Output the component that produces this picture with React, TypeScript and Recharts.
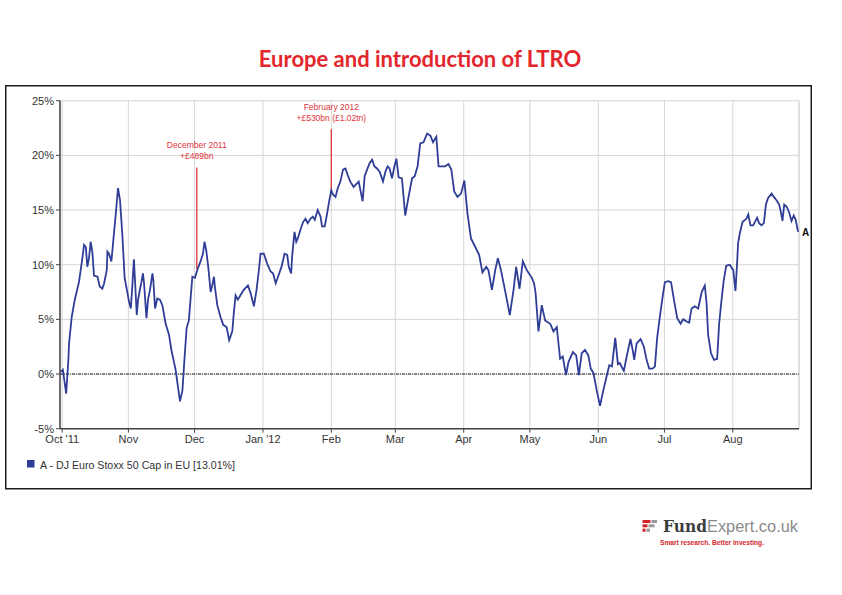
import React from 'react';
import { LineChart, Line, XAxis, YAxis, CartesianGrid, ReferenceLine } from 'recharts';

// Days since 1 Oct 2011
const days = [
  0.4, 1.3, 2.8, 3.8, 4.1, 5.3, 6.7, 8.6, 10.2, 10.9, 11.7, 12.4, 13.2, 13.9, 14.7, 15.4, 17.0, 18.0, 19.2, 20.0,
  21.2, 21.5, 22.2, 23.3, 24.2, 25.3, 26.3, 27.2, 28.3, 29.3, 30.6, 31.3, 32.1, 32.8, 33.5, 34.8, 35.4, 36.3, 36.9, 37.6,
  38.1, 39.2, 39.9, 40.8, 41.9, 42.3, 43.1, 44.1, 45.3, 46.4, 47.9, 49.4, 50.5, 52.4, 54.4, 55.5, 56.5, 57.4, 58.4, 60.0,
  61.2, 62.2, 63.7, 64.8, 65.5, 66.3, 67.2, 68.3, 69.0, 69.8, 70.2, 71.3, 72.8, 74.0, 75.5, 76.7, 78.1, 78.8, 79.6, 80.6,
  81.8, 83.3, 85.2, 86.4, 87.9, 89.1, 90.1, 90.9, 92.4, 93.9, 95.4, 96.6, 97.8, 99.2, 100.4, 101.8, 103.0, 103.7, 104.8, 105.2,
  106.3, 107.1, 107.8, 109.0, 110.2, 111.3, 112.3, 113.5, 114.6, 115.5, 116.8, 118.1, 118.8, 120.0, 121.1, 122.1, 123.0, 123.8, 124.9, 125.9,
  127.1, 128.3, 129.4, 130.4, 131.6, 133.1, 134.4, 135.4, 136.2, 137.2, 138.1, 139.2, 140.4, 141.5, 142.5, 143.7, 144.9, 146.4, 147.5, 148.5,
  149.4, 150.5, 151.6, 152.5, 153.5, 155.0, 156.5, 158.0, 159.6, 160.8, 162.1, 163.3, 164.8, 166.4, 167.9, 169.1, 170.6, 171.6, 173.2, 174.6,
  176.1, 177.4, 178.7, 180.2, 181.8, 183.3, 184.7, 186.3, 187.8, 190.0, 191.5, 193.2, 194.2, 195.8, 197.3, 198.5, 199.9, 201.4, 203.9, 205.6,
  206.8, 208.3, 209.8, 211.6, 213.9, 214.9, 215.6, 216.9, 218.4, 219.9, 222.2, 223.7, 225.2, 226.7, 227.9, 229.4, 230.5, 232.5, 234.0, 235.2,
  236.5, 238.0, 239.5, 240.6, 241.8, 243.3, 244.8, 246.3, 247.8, 249.0, 250.2, 251.7, 252.9, 253.8, 255.0, 255.6, 256.9, 258.6, 259.6, 260.3,
  261.4, 263.2, 264.7, 265.9, 267.1, 268.6, 269.7, 270.7, 271.9, 273.2, 274.2, 275.7, 277.0, 278.3, 279.8, 281.3, 282.5, 284.1, 285.2, 286.3,
  287.8, 289.3, 290.9, 292.3, 293.1, 293.8, 295.1, 296.5, 297.9, 298.8, 299.9, 300.9, 302.0, 303.6, 305.2, 306.2, 307.0, 307.4, 308.2, 309.4,
  310.5, 311.2, 312.0, 313.0, 314.2, 315.0, 316.0, 316.9, 318.0, 319.1, 320.0, 321.0, 322.6, 323.6, 324.8, 326.0, 326.8, 327.5, 328.3, 329.4,
  330.5, 331.6, 332.6, 333.5, 334.6,
];

const values = [
  0.2, 0.4, -1.8, 1.3, 2.8, 5.2, 6.8, 8.4, 10.7, 11.8, 11.6, 9.8, 10.7, 12.1, 11.1, 9.0, 8.9, 8.0, 7.8, 8.3,
  9.5, 11.2, 11.0, 10.3, 12.3, 14.7, 17.0, 15.9, 12.6, 8.8, 7.4, 6.6, 6.0, 8.1, 10.5, 5.4, 6.8, 7.8, 8.4, 9.2,
  8.3, 5.1, 6.8, 7.7, 9.2, 8.6, 6.0, 6.9, 6.8, 6.3, 4.6, 3.6, 2.2, 0.4, -2.5, -1.5, 1.6, 4.2, 4.9, 8.9,
  8.8, 9.5, 10.3, 11.0, 12.1, 11.3, 9.8, 7.5, 8.1, 8.9, 8.0, 6.3, 5.2, 4.5, 4.3, 3.1, 3.9, 5.6, 7.2, 6.8,
  7.2, 7.7, 8.1, 7.4, 6.2, 7.7, 9.4, 11.0, 11.0, 10.1, 9.4, 9.2, 8.3, 9.1, 9.8, 11.0, 10.9, 9.8, 9.2, 10.7,
  13.0, 12.1, 12.4, 13.2, 13.9, 14.2, 13.8, 14.2, 14.4, 14.1, 15.0, 14.4, 13.5, 13.5, 14.7, 15.9, 16.8, 16.4, 16.2, 17.0,
  17.6, 18.7, 18.8, 18.2, 17.6, 17.1, 17.4, 17.6, 16.8, 15.8, 18.1, 18.7, 19.3, 19.6, 19.0, 18.8, 18.5, 17.6, 18.5, 19.0,
  18.8, 17.9, 19.0, 19.7, 18.0, 17.9, 14.5, 16.2, 17.9, 18.1, 19.0, 21.1, 21.2, 22.0, 21.8, 21.2, 21.7, 19.0, 19.0, 19.0,
  19.2, 18.7, 16.7, 16.2, 16.5, 17.7, 14.7, 12.4, 11.8, 10.9, 9.3, 9.8, 9.5, 7.7, 9.5, 10.6, 9.5, 8.0, 5.4, 7.7,
  9.8, 7.8, 10.3, 9.5, 8.8, 8.3, 7.4, 3.9, 6.3, 4.9, 4.6, 3.9, 4.3, 1.4, 1.6, -0.1, 1.1, 2.0, 1.7, -0.1,
  1.9, 2.2, 1.7, 0.5, 0.1, -1.5, -2.9, -1.5, -0.2, 0.8, 0.7, 3.3, 0.9, 1.0, 0.5, 0.3, 1.6, 3.2, 2.2, 1.3,
  2.8, 3.2, 2.5, 1.3, 0.5, 0.5, 0.7, 3.3, 5.2, 7.1, 8.4, 8.5, 8.4, 6.8, 5.1, 4.6, 5.0, 4.8, 4.7, 6.0,
  6.2, 6.0, 7.5, 8.1, 6.5, 3.6, 1.9, 1.3, 1.4, 4.6, 6.8, 8.6, 9.9, 10.0, 9.5, 7.6, 10.4, 12.0, 12.9, 13.9,
  14.1, 14.2, 14.6, 13.6, 13.6, 13.9, 14.3, 13.8, 13.6, 13.8, 15.5, 16.1, 16.5, 16.2, 15.9, 15.5, 14.8, 14.0, 15.5, 15.3,
  14.8, 14.0, 14.5, 14.1, 13.0,
];

const monthTicks = [1, 31, 61, 92, 123, 152, 183, 213, 244, 274, 305];
const monthLabels = ["Oct '11", 'Nov', 'Dec', "Jan '12", 'Feb', 'Mar', 'Apr', 'May', 'Jun', 'Jul', 'Aug'];
const yTicks = [-5, 0, 5, 10, 15, 20, 25];

const seriesName = 'A - DJ Euro Stoxx 50 Cap in EU [13.01%]';
const seriesShort = 'A';

const annoDays = [62, 123];
const annoTop = [18.9, 22.4];
const annoBottom = [9.6, 16.8];
const annoLine1 = ['December 2011', 'February 2012'];
const annoLine2 = ['+£489bn', '+£530bn (£1.02tn)'];

const data = days.map((d, i) => ({ day: d, value: values[i] }));

const BLUE = '#2f3d96';
const RED = '#e2333b';
const FONT = '"Liberation Sans", Arial, sans-serif';

const renderAnno = (i: number) => (p: any) => {
  const vb = p.viewBox || {};
  const cx = (vb.x || 0) + (vb.width || 0) / 2;
  const top = vb.y || 0;
  return (
    <g>
      <text x={cx} y={top - 19} textAnchor="middle" fontSize={8.5} fill={RED} fontFamily={FONT}>{annoLine1[i]}</text>
      <text x={cx} y={top - 8} textAnchor="middle" fontSize={8.5} fill={RED} fontFamily={FONT}>{annoLine2[i]}</text>
    </g>
  );
};

const endLabel = (p: any) => {
  if (p.index !== data.length - 1) return <g />;
  return (
    <text x={p.x + 4} y={p.y + 4} fontSize={10} fontWeight="bold" fill="#111" fontFamily={FONT}>{seriesShort}</text>
  );
};

export default function App() {
  return (
    <div style={{ position: 'absolute', left: 0, top: 0, width: 842, height: 595, background: '#fff', overflow: 'hidden' }}>
      <svg width={842} height={595} style={{ position: 'absolute', left: 0, top: 0 }}>
        <text x={420} y={66.5} textAnchor="middle" fontFamily="Lato, 'Open Sans', sans-serif" fontWeight="bold" fontSize={22} fill="#e3262d">
          Europe and introduction of LTRO
        </text>
        <rect x={5.75} y={85.75} width={805.5} height={403} fill="none" stroke="#1e1e1e" strokeWidth={1.5} />
        {/* legend */}
        <rect x={27} y={460} width={7.5} height={7.5} fill={BLUE} />
        <text x={40} y={468.5} fontSize={11} fill="#333" fontFamily={FONT} textLength={195} lengthAdjust="spacingAndGlyphs">{seriesName}</text>
        {/* logo */}
        <rect x={642.5} y={520} width={8} height={3} fill="#d2232a" />
        <rect x={651.5} y={520} width={5.5} height={3} fill="#9a9a9a" />
        <rect x={642.5} y={524.3} width={5} height={3} fill="#d2232a" />
        <rect x={648.5} y={524.3} width={6} height={3} fill="#9a9a9a" />
        <rect x={642.5} y={528.6} width={3} height={3.2} fill="#d2232a" />
        <rect x={646.5} y={528.6} width={3.5} height={3.2} fill="#9a9a9a" />
        <text x={663} y={532} fontFamily="'DejaVu Serif', serif" fontWeight="bold" fontSize={17} fill="#3d3d3d" textLength={44} lengthAdjust="spacingAndGlyphs">Fund</text>
        <text x={707} y={532} fontFamily={FONT} fontSize={16.5} fill="#8a8a8a" textLength={91} lengthAdjust="spacingAndGlyphs">Expert.co.uk</text>
        <text x={660} y={545} fontFamily="'Liberation Sans Narrow', 'Liberation Sans', sans-serif" fontWeight="bold" fontSize={8} fill="#d2232a" textLength={104} lengthAdjust="spacingAndGlyphs">Smart research. Better investing.</text>
      </svg>
      <div style={{ position: 'absolute', left: 0, top: 0 }}>
        <LineChart width={842} height={470} data={data} margin={{ top: 100.7, right: 43, bottom: 11.3, left: 0 }}>
          <CartesianGrid stroke="#d6d6d6" strokeWidth={1} />
          <XAxis
            dataKey="day"
            type="number"
            domain={[0, 335]}
            ticks={monthTicks}
            tickFormatter={(v: number) => monthLabels[monthTicks.indexOf(v)] ?? ''}
            height={30}
            axisLine={{ stroke: '#444', strokeWidth: 1.5 }}
            tickLine={{ stroke: '#444' }}
            tickSize={4}
            tickMargin={2}
            tick={{ fontSize: 11, fill: '#333', fontFamily: FONT }}
            interval={0}
            allowDataOverflow
          />
          <YAxis
            type="number"
            domain={[-5, 25]}
            ticks={yTicks}
            tickFormatter={(v: number) => `${v}%`}
            width={60}
            axisLine={{ stroke: '#444', strokeWidth: 1.5 }}
            tickLine={{ stroke: '#444' }}
            tickSize={4}
            tickMargin={2}
            tick={{ fontSize: 11, fill: '#333', fontFamily: FONT }}
            interval={0}
            allowDataOverflow
          />
          <ReferenceLine x={335} stroke="#d6d6d6" />
          <ReferenceLine y={0} stroke="#222" strokeWidth={1} strokeDasharray="3 1 1 1" />
          {annoDays.map((d, i) => (
            <ReferenceLine
              key={i}
              segment={[{ x: d, y: annoBottom[i] }, { x: d, y: annoTop[i] }]}
              stroke={RED}
              strokeWidth={1.3}
              ifOverflow="visible"
              label={renderAnno(i)}
            />
          ))}
          <Line
            type="linear"
            dataKey="value"
            stroke={BLUE}
            strokeWidth={1.8}
            dot={false}
            isAnimationActive={false}
            label={endLabel}
          />
        </LineChart>
      </div>
    </div>
  );
}
